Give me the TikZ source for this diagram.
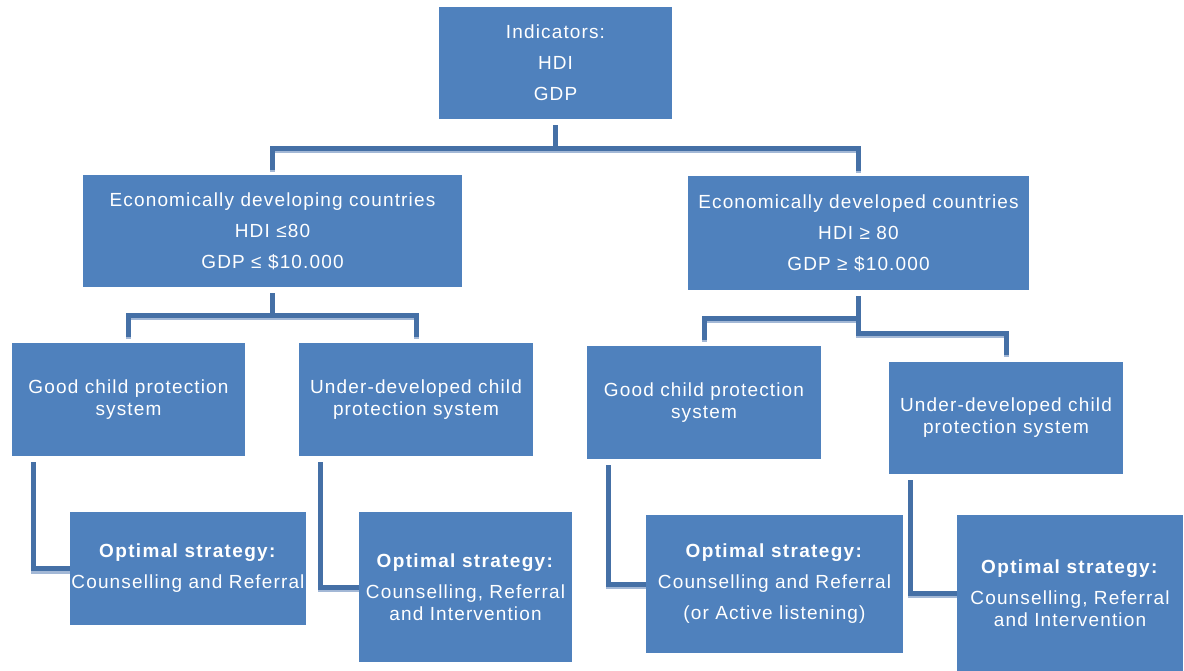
\documentclass[tikz,border=0pt]{standalone}
\usepackage{fontspec}
\setmainfont{Liberation Sans}[LetterSpace=6,BoldFeatures={LetterSpace=7}]
\usepackage{tikz}
\usetikzlibrary{calc}
\definecolor{BoxBlue}{HTML}{4F81BD}
\definecolor{LinkBlue}{HTML}{4570A6}
\definecolor{LinkShade}{HTML}{A3B8D6}

\begin{document}
\begin{tikzpicture}[x=1pt,y=-1pt,
  box/.style={rectangle,fill=BoxBlue,text=white,align=center,inner sep=0pt,
    font=\fontsize{19}{22}\selectfont},
  link/.style={draw=LinkBlue,line width=5pt,
    preaction={draw=LinkShade,line width=5pt,transform canvas={yshift=-2.5pt}}}]
\useasboundingbox (0,0) rectangle (1184,671);
% indicators
\node[box,minimum width=233pt,minimum height=112pt] (ind) at (555.5,63) {Indicators:\\[9pt]HDI\\[9pt]GDP};
% country groups
\node[box,minimum width=379pt,minimum height=112pt] (dvl) at (272.5,231) {Economically developing countries\\[9pt]HDI ≤80\\[9pt]GDP ≤ \$10.000};
\node[box,minimum width=341pt,minimum height=114pt] (dvd) at (858.5,233) {Economically developed countries\\[9pt]HDI ≥ 80\\[9pt]GDP ≥ \$10.000};
% protection systems
\node[box,minimum width=233pt,minimum height=113pt] (goodA) at (128.5,399.5) {Good child protection\\system};
\node[box,minimum width=234pt,minimum height=113pt] (poorA) at (416,399.5) {Under-developed child\\protection system};
\node[box,minimum width=234pt,minimum height=113pt] (goodB) at (704,402.5) {Good child protection\\system};
\node[box,minimum width=234pt,minimum height=112pt] (poorB) at (1006,418) {Under-developed child\\protection system};
% strategies
\node[box,minimum width=236pt,minimum height=113pt] (optA) at (188,568.5) {\textbf{Optimal strategy:}\\[9pt]Counselling and Referral};
\node[box,minimum width=213pt,minimum height=150pt] (optB) at (465.5,587) {\textbf{Optimal strategy:}\\[9pt]Counselling, Referral\\and Intervention};
\node[box,minimum width=257pt,minimum height=138pt] (optC) at (774.5,584) {\textbf{Optimal strategy:}\\[9pt]Counselling and Referral\\[9pt](or Active listening)};
\node[box,minimum width=226pt,minimum height=156pt] (optD) at (1070,593) {\textbf{Optimal strategy:}\\[9pt]Counselling, Referral\\and Intervention};

% tree links
\draw[link] ([yshift=-6pt]ind.south) -- ++(0,23) -| ([yshift=5pt]dvl.north);
\draw[link] ([yshift=-6pt]ind.south) -- ++(0,23) -| ([yshift=5pt]dvd.north);
\draw[link] ([yshift=-6pt]dvl.south) -- ++(0,22) -| ([yshift=6pt]goodA.north);
\draw[link] ([yshift=-6pt]dvl.south) -- ++(0,22) -| ([yshift=6pt]poorA.north);
\draw[link] ([yshift=-6pt]dvd.south) -- ++(0,22) -| ([yshift=6pt]goodB.north);
\draw[link] ([yshift=-6pt]dvd.south) -- ++(0,37) -| ([yshift=7pt]poorB.north);
% elbows down to the strategies
\draw[link] ([xshift=22pt,yshift=-6pt]goodA.south west) |- (optA.west);
\draw[link] ([xshift=22pt,yshift=-6pt]poorA.south west) |- (optB.west);
\draw[link] ([xshift=22pt,yshift=-6pt]goodB.south west) |- (optC.west);
\draw[link] ([xshift=22pt,yshift=-6pt]poorB.south west) |- (optD.west);
\end{tikzpicture}
\end{document}
